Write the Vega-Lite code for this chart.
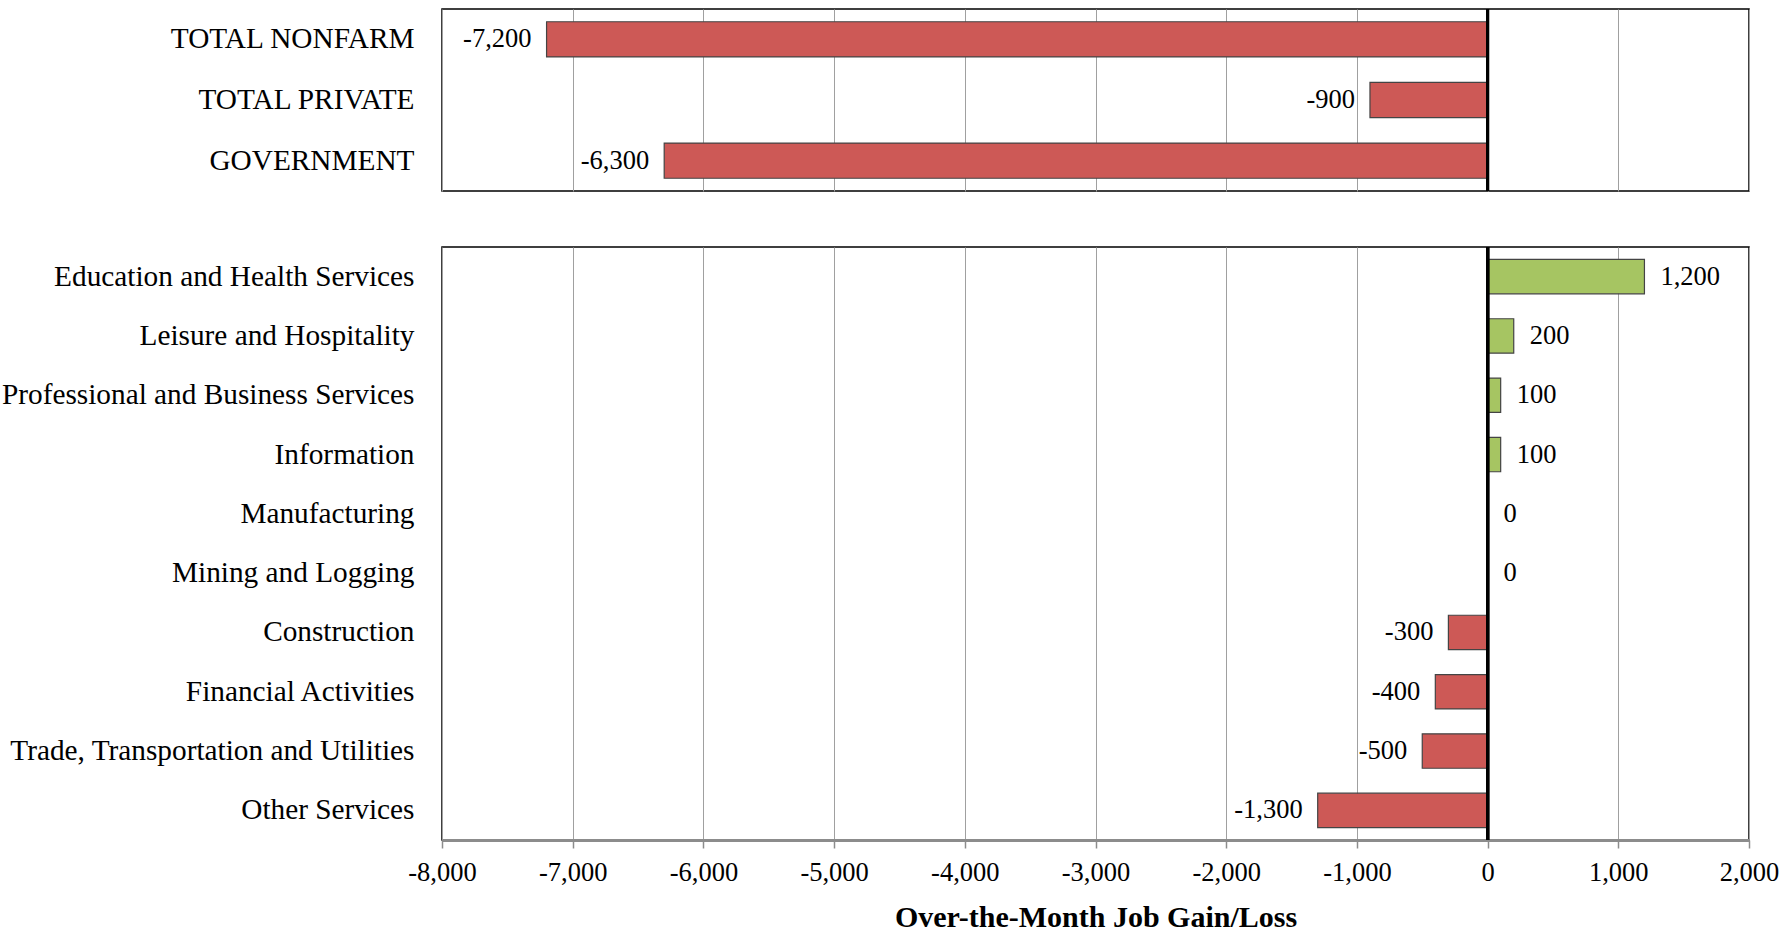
{
  "$schema": "https://vega.github.io/schema/vega-lite/v6.json",
  "padding": {"left": 0, "top": 6, "right": 30, "bottom": 2},
  "background": "white",
  "spacing": 50,
  "config": {
    "font": "Liberation Serif",
    "view": {"stroke": "black", "strokeWidth": 1.5},
    "locale": {"number": {"decimal": ".", "thousands": ",", "grouping": [3], "currency": ["$", ""], "minus": "-"}},
    "axis": {"labelFont": "Liberation Serif", "titleFont": "Liberation Serif", "labelColor": "black", "titleColor": "black"}
  },
  "datasets": {
    "top": [
      {"category": "TOTAL NONFARM", "value": -7200},
      {"category": "TOTAL PRIVATE", "value": -900},
      {"category": "GOVERNMENT", "value": -6300}
    ],
    "bottom": [
      {"category": "Education and Health Services", "value": 1200},
      {"category": "Leisure and Hospitality", "value": 200},
      {"category": "Professional and Business Services", "value": 100},
      {"category": "Information", "value": 100},
      {"category": "Manufacturing", "value": 0},
      {"category": "Mining and Logging", "value": 0},
      {"category": "Construction", "value": -300},
      {"category": "Financial Activities", "value": -400},
      {"category": "Trade, Transportation and Utilities", "value": -500},
      {"category": "Other Services", "value": -1300}
    ]
  },
  "resolve": {"scale": {"x": "shared"}},
  "vconcat": [
    {
      "width": 1307,
      "height": 182,
      "data": {"name": "top"},
      "layer": [
        {
          "mark": {"type": "bar", "color": "#CD5956", "stroke": "#444444", "strokeWidth": 1.2},
          "encoding": {
            "y": {
              "field": "category", "type": "nominal", "sort": null,
              "scale": {"paddingInner": 0.42, "paddingOuter": 0.21},
              "axis": {"title": null, "domain": false, "ticks": false, "tickSize": 0, "labelPadding": 28, "labelFontSize": 29.3, "labelLimit": 600}
            },
            "x": {
              "field": "value", "type": "quantitative",
              "scale": {"domain": [-8000, 2000], "nice": false, "zero": false},
              "axis": {"title": null, "labels": false, "ticks": false, "domain": false, "grid": true, "gridColor": "#A0A0A0", "gridWidth": 1, "values": [-8000, -7000, -6000, -5000, -4000, -3000, -2000, -1000, 0, 1000, 2000]}
            }
          }
        },
        {
          "transform": [{"filter": "datum.value < 0"}],
          "mark": {"type": "text", "align": "right", "baseline": "middle", "dx": -15, "fontSize": 26.5, "font": "Liberation Serif", "color": "black"},
          "encoding": {
            "y": {"field": "category", "type": "nominal", "sort": null},
            "x": {"field": "value", "type": "quantitative"},
            "text": {"field": "value", "type": "quantitative", "format": ",.0f"}
          }
        },
        {
          "mark": {"type": "rule", "color": "black", "strokeWidth": 3},
          "encoding": {"x": {"datum": 0}}
        }
      ]
    },
    {
      "width": 1307,
      "height": 593,
      "data": {"name": "bottom"},
      "layer": [
        {
          "transform": [{"filter": "datum.value != 0"}],
          "mark": {"type": "bar", "stroke": "#444444", "strokeWidth": 1.2},
          "encoding": {
            "y": {
              "field": "category", "type": "nominal", "sort": null,
              "scale": {"domain": ["Education and Health Services", "Leisure and Hospitality", "Professional and Business Services", "Information", "Manufacturing", "Mining and Logging", "Construction", "Financial Activities", "Trade, Transportation and Utilities", "Other Services"], "paddingInner": 0.42, "paddingOuter": 0.21},
              "axis": {"title": null, "domain": false, "ticks": false, "tickSize": 0, "labelPadding": 28, "labelFontSize": 29.3, "labelLimit": 600}
            },
            "x": {
              "field": "value", "type": "quantitative",
              "scale": {"domain": [-8000, 2000], "nice": false, "zero": false},
              "axis": {
                "title": "Over-the-Month Job Gain/Loss", "titleFontSize": 30, "titleFontWeight": "bold", "titlePadding": 17,
                "values": [-8000, -7000, -6000, -5000, -4000, -3000, -2000, -1000, 0, 1000, 2000],
                "format": ",.0f", "labelFontSize": 26.5, "labelPadding": 11, "labelFlush": false,
                "grid": true, "gridColor": "#A0A0A0", "gridWidth": 1,
                "domain": true, "domainColor": "#8C8C8C", "domainWidth": 3,
                "ticks": true, "tickColor": "#8C8C8C", "tickSize": 8, "tickWidth": 1.5
              }
            },
            "color": {
              "condition": {"test": "datum.value < 0", "value": "#CD5956"},
              "value": "#A6C562"
            }
          }
        },
        {
          "transform": [{"filter": "datum.value < 0"}],
          "mark": {"type": "text", "align": "right", "baseline": "middle", "dx": -15, "fontSize": 26.5, "font": "Liberation Serif", "color": "black"},
          "encoding": {
            "y": {"field": "category", "type": "nominal", "sort": null},
            "x": {"field": "value", "type": "quantitative"},
            "text": {"field": "value", "type": "quantitative", "format": ",.0f"}
          }
        },
        {
          "transform": [{"filter": "datum.value >= 0"}],
          "mark": {"type": "text", "align": "left", "baseline": "middle", "dx": 16, "fontSize": 26.5, "font": "Liberation Serif", "color": "black"},
          "encoding": {
            "y": {"field": "category", "type": "nominal", "sort": null},
            "x": {"field": "value", "type": "quantitative"},
            "text": {"field": "value", "type": "quantitative", "format": ",.0f"}
          }
        },
        {
          "mark": {"type": "rule", "color": "black", "strokeWidth": 3},
          "encoding": {"x": {"datum": 0}}
        }
      ]
    }
  ]
}
